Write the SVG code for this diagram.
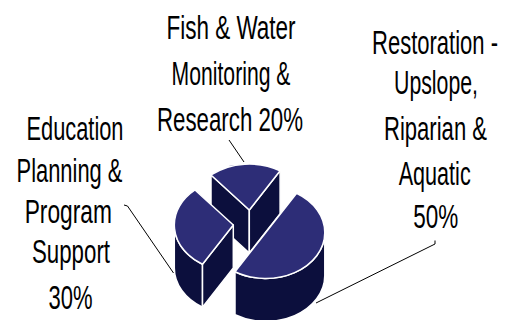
<svg xmlns="http://www.w3.org/2000/svg" width="515" height="320" viewBox="0 0 515 320">
<style>
.lbl{font-family:"Liberation Sans",Arial,sans-serif;font-size:33px;fill:#000;text-anchor:middle}
.top{fill:#2D2D77;stroke:#fff;stroke-width:1.5;stroke-linejoin:round}
.side{fill:#0C0F3D;stroke:#fff;stroke-width:1.5;stroke-linejoin:round}
.lead{fill:none;stroke:#000;stroke-width:1}
</style>
<rect width="515" height="320" fill="#fff"/>
<g id="node-fish">
<path class="side" d="M211 175 L249.3 210 L249.3 253 L211 218 Z"/>
<path class="side" d="M249.3 210 L280.1 170.8 L280.1 213.8 L249.3 253 Z"/>
<path class="top" d="M249.3 210 L211 175 A59 46 0 0 1 280.1 170.8 Z"/>
<text class="lbl" transform="translate(231 38.8) scale(0.682 1)">Fish &amp; Water</text>
<text class="lbl" transform="translate(231 85) scale(0.642 1)">Monitoring &amp;</text>
<text class="lbl" transform="translate(230 130.7) scale(0.675 1)">Research 20%</text>
</g>
<g id="node-education">
<path class="side" d="M202.5 264.2 A59 46 0 0 1 174.3 225 L174.3 268 A59 46 0 0 0 202.5 307.2 Z"/>
<path class="side" d="M233.3 225 L202.5 264.2 L202.5 307.2 L233.3 268 Z"/>
<path class="top" d="M233.3 225 L202.5 264.2 A59 46 0 0 1 195 190 Z"/>
<text class="lbl" transform="translate(75 140) scale(0.661 1)">Education</text>
<text class="lbl" transform="translate(69.5 181.7) scale(0.664 1)">Planning &amp;</text>
<text class="lbl" transform="translate(68.3 223) scale(0.69 1)">Program</text>
<text class="lbl" transform="translate(71 263.3) scale(0.675 1)">Support</text>
<text class="lbl" transform="translate(70.5 309) scale(0.667 1)">30%</text>
</g>
<g id="node-restoration">
<path class="side" d="M324.8 232.5 A59 46 0 0 1 235 271.7 L235 314.7 A59 46 0 0 0 324.8 275.5 Z"/>
<path class="top" d="M265.8 232.5 L296.6 193.3 A59 46 0 0 1 324.8 232.5 A59 46 0 0 1 235 271.7 Z"/>
<text class="lbl" transform="translate(435 54.3) scale(0.667 1)">Restoration -</text>
<text class="lbl" transform="translate(436 94) scale(0.645 1)">Upslope,</text>
<text class="lbl" transform="translate(435.5 139.5) scale(0.669 1)">Riparian &amp;</text>
<text class="lbl" transform="translate(434.7 185) scale(0.654 1)">Aquatic</text>
<text class="lbl" transform="translate(435.8 228.3) scale(0.682 1)">50%</text>
</g>
<g id="connectors">
<path class="lead" d="M229 140 L244 162"/>
<path class="lead" d="M124 205 L127.5 206 L173.5 273"/>
<path class="lead" d="M316 303 L435 244 L435 240.5"/>
</g>
</svg>
